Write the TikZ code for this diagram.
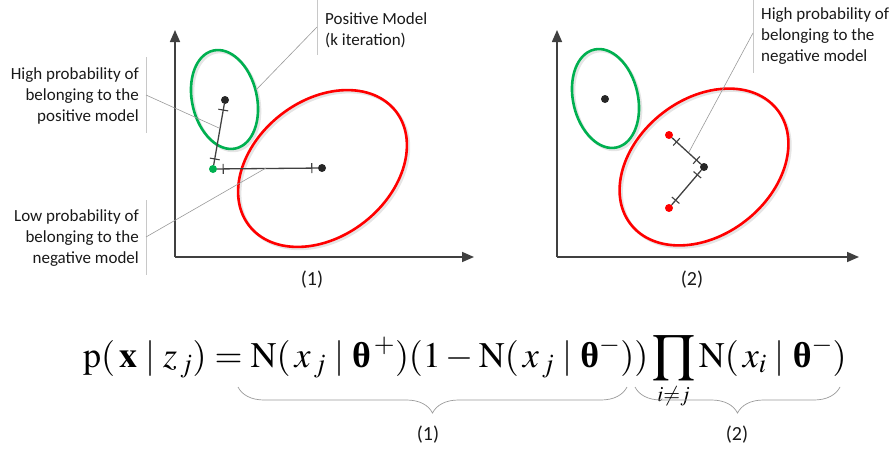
\documentclass[tikz,border=0pt]{standalone}
\usepackage{amsmath}
\usepackage{mathptmx}
\usepackage[no-math]{fontspec}
\setmainfont{Liberation Serif}
\setsansfont{Carlito}
\usepackage{tikz}
\usetikzlibrary{arrows.meta, decorations.markings, decorations.pathreplacing}
\definecolor{modelGreen}{HTML}{00B050}
\definecolor{modelRed}{HTML}{FF0000}
\definecolor{axisGray}{HTML}{404040}
\definecolor{dotBlack}{HTML}{262626}
\definecolor{leadGray}{HTML}{9A9A9A}
\definecolor{barGray}{HTML}{C8C8C8}
\newcommand{\btheta}{\text{\bfseries\upshape θ}}
\tikzset{
    axis_arrow/.style={
        -{Triangle[length=12pt, width=10pt]}, draw=axisGray, line width=1.6pt
    },
    ell_green/.style={
        draw=modelGreen, line width=2.6pt
    },
    ell_red/.style={
        draw=modelRed, line width=2.6pt
    },
    ell_shadow/.style={
        draw=black!10, line width=2.6pt
    },
    dot_black/.style={
        circle, fill=dotBlack, inner sep=0pt, minimum size=8pt
    },
    dot_green/.style={
        circle, fill=modelGreen, inner sep=0pt, minimum size=8pt
    },
    dot_red/.style={
        circle, fill=modelRed, inner sep=0pt, minimum size=8pt
    },
    dist_line/.style={
        draw=axisGray, line width=1.3pt,
        postaction={decorate},
        decoration={markings,
            mark=at position 6pt with {\draw[axisGray, line width=1.1pt] (0,-5pt) -- (0,5pt);},
            mark=at position -6pt with {\draw[axisGray, line width=1.1pt] (0,-5pt) -- (0,5pt);}}
    },
    lead_line/.style={
        draw=leadGray, line width=0.6pt
    },
    side_bar/.style={
        draw=barGray, line width=0.9pt
    },
    lbl_text/.style={
        font=\sffamily\fontsize{17}{21}\selectfont, text=black!90, inner sep=0pt
    },
    panel_num/.style={
        font=\sffamily\fontsize{20}{24}\selectfont, text=black!90
    },
    brace_line/.style={
        draw=leadGray, line width=0.7pt,
        decorate, decoration={brace, mirror, amplitude=26pt}
    }
}

\begin{document}
\begin{tikzpicture}[x=1pt, y=1pt]
    \useasboundingbox (0,0) rectangle (894,-455);

    % panel (1)
    \coordinate (o1) at (175,-257);
    \coordinate (top1) at (175,-30);
    \coordinate (right1) at (474,-257);
    \draw[axis_arrow] (o1) -- (top1);
    \draw[axis_arrow] (o1) -- (right1);

    \draw[ell_shadow] (226.5,-101.5) ellipse [x radius=32.4, y radius=50.2, rotate=13];
    \draw[ell_shadow] (324.5,-170.5) ellipse [x radius=93, y radius=68, rotate=38];
    \draw[ell_green] (224.5,-99.5) ellipse [x radius=32.4, y radius=50.2, rotate=13];
    \draw[ell_red] (322.5,-168.5) ellipse [x radius=93, y radius=68, rotate=38];

    \node[dot_black] (pos_c1) at (225,-100) {};
    \node[dot_green] (pt_green) at (213,-169) {};
    \node[dot_black] (neg_c1) at (322,-168) {};
    \draw[dist_line] (pt_green) -- (pos_c1);
    \draw[dist_line] (pt_green) -- (neg_c1);

    \node[lbl_text, anchor=west, align=left] (lbl_posmodel) at (325,-30) {Positive Model\\(k iteration)};
    \node[lbl_text, anchor=east, align=right] (lbl_highpos) at (139,-96) {High probability of\\belonging to the\\positive model};
    \node[lbl_text, anchor=east, align=right] (lbl_lowneg) at (139,-238) {Low probability of\\belonging to the\\negative model};

    \draw[side_bar] (317,0) -- (317,-55);
    \draw[side_bar] (146,-57) -- (146,-133);
    \draw[side_bar] (146,-200) -- (146,-275);

    \coordinate (lead_a) at (317,-27);
    \coordinate (lead_b) at (146,-95);
    \coordinate (lead_c) at (146,-237);
    \coordinate (tip_a) at (256,-90);
    \coordinate (tip_b) at (219,-128);
    \coordinate (tip_c) at (266,-168);
    \draw[lead_line] (lead_a) -- (tip_a);
    \draw[lead_line] (lead_b) -- (tip_b);
    \draw[lead_line] (lead_c) -- (tip_c);

    \node[panel_num] (num1) at (312,-280) {(1)};

    % panel (2)
    \coordinate (o2) at (557,-257);
    \coordinate (top2) at (557,-30);
    \coordinate (right2) at (859,-257);
    \draw[axis_arrow] (o2) -- (top2);
    \draw[axis_arrow] (o2) -- (right2);

    \draw[ell_shadow] (607.5,-100.5) ellipse [x radius=32.4, y radius=50.2, rotate=13];
    \draw[ell_shadow] (706,-169) ellipse [x radius=93, y radius=68, rotate=38];
    \draw[ell_green] (605.5,-98.5) ellipse [x radius=32.4, y radius=50.2, rotate=13];
    \draw[ell_red] (704,-167) ellipse [x radius=93, y radius=68, rotate=38];

    \node[dot_black] (pos_c2) at (605,-99) {};
    \node[dot_red] (pt_red1) at (669,-135) {};
    \node[dot_red] (pt_red2) at (669,-208) {};
    \node[dot_black] (neg_c2) at (704,-167) {};
    \draw[dist_line] (pt_red1) -- (neg_c2);
    \draw[dist_line] (pt_red2) -- (neg_c2);

    \node[lbl_text, anchor=west, align=left] (lbl_highneg) at (761,-36) {High probability of\\belonging to the\\negative model};
    \draw[side_bar] (753,0) -- (753,-73);
    \coordinate (lead_d) at (753,-33);
    \coordinate (tip_d) at (689,-152);
    \draw[lead_line] (lead_d) -- (tip_d);

    \node[panel_num] (num2) at (692,-280) {(2)};

    % likelihood
    \node[anchor=base west, inner sep=0pt, font=\fontsize{36}{42}\selectfont] (eqn) at (83,-367)
        {$\displaystyle \mathrm{p}(\,\mathbf{x}\mid z_{\,j}) = \mathrm{N}(\,x_{\,j}\mid \btheta^{\,+})(1-\mathrm{N}(\,x_{\,j}\mid \btheta^{-}))\prod_{\scriptscriptstyle i\neq j}\mathrm{N}(\,x_{i}\mid \btheta^{-})$};

    \draw[brace_line] (238,-387) -- (627,-387);
    \draw[brace_line] (635,-387) -- (840,-387);
    \node[panel_num] (term1) at (428,-435) {(1)};
    \node[panel_num] (term2) at (737,-435) {(2)};
\end{tikzpicture}
\end{document}
